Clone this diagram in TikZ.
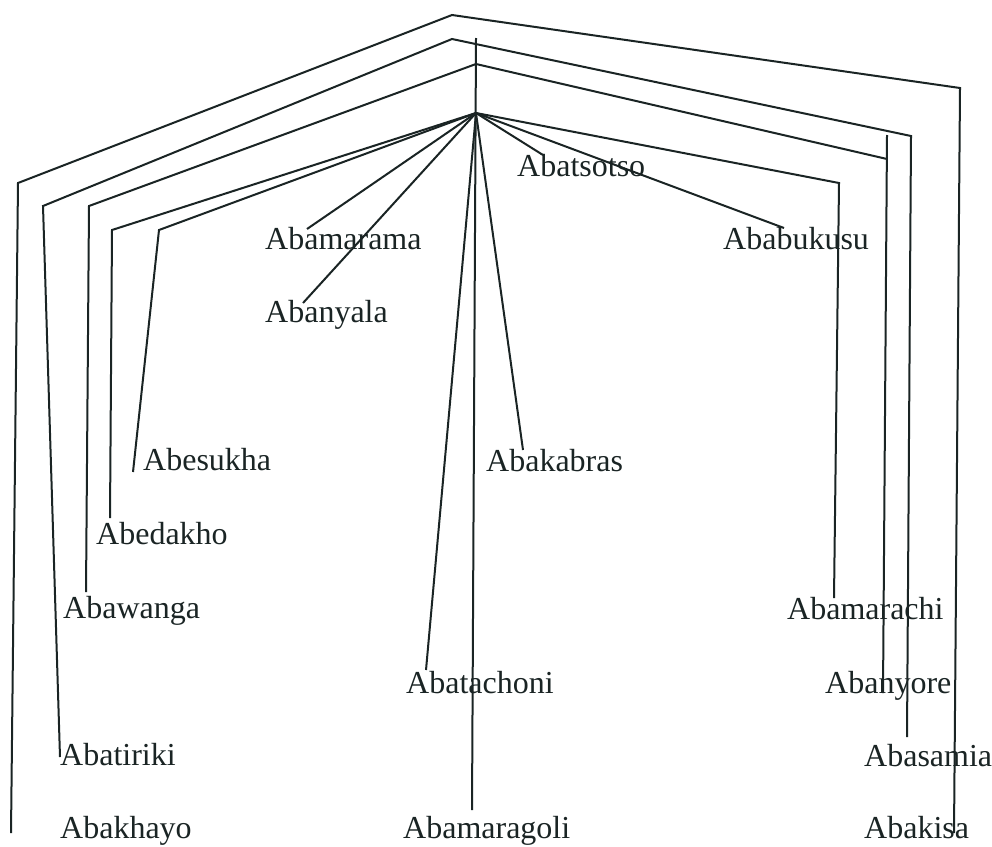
\documentclass[tikz,border=0pt]{standalone}
\usepackage{fontspec}
\setmainfont{Liberation Serif}
\definecolor{ink}{HTML}{1A2424}
\begin{document}
\begin{tikzpicture}[x=1pt,y=-1pt,
  lbl/.style={anchor=base west,inner sep=0pt,text=ink,font=\fontsize{32}{36}\selectfont},
  conn/.style={draw=ink,line width=2pt}]
\useasboundingbox (0,0) rectangle (992,846);
% labels
\node[lbl] (mrm) at (265,249) {Abamarama};
\node[lbl] (nya) at (265,322) {Abanyala};
\node[lbl] (tso) at (517,176) {Abatsotso};
\node[lbl] (buk) at (723,249) {Ababukusu};
\node[lbl] (esu) at (143,470) {Abesukha};
\node[lbl] (eda) at (96,544) {Abedakho};
\node[lbl] (kab) at (486,471) {Abakabras};
\node[lbl] (wan) at (63,618) {Abawanga};
\node[lbl] (tir) at (60,765) {Abatiriki};
\node[lbl] (kha) at (60,838) {Abakhayo};
\node[lbl] (tac) at (406,693) {Abatachoni};
\node[lbl] (mrg) at (403,838) {Abamaragoli};
\node[lbl] (mch) at (787,619) {Abamarachi};
\node[lbl] (nyo) at (825,693) {Abanyore};
\node[lbl] (sam) at (864,766) {Abasamia};
\node[lbl] (kis) at (864,838) {Abakisa};
% junction points
\coordinate (hub) at (476,113);
\coordinate (top) at (476,38);
\coordinate (apexA) at (452,15);
\coordinate (apexB) at (452,39);
\coordinate (apexC) at (476,64);
\coordinate (lA) at (18,183);
\coordinate (lB) at (43,206);
\coordinate (lC) at (89,206);
\coordinate (lD) at (112,230);
\coordinate (lE) at (159,230);
\coordinate (rA) at (960,88);
\coordinate (rB) at (911,136);
\coordinate (rC) at (887,159);
\coordinate (rCt) at (887,135);
\coordinate (rD) at (839,183);
% connector ends
\coordinate (eKha) at (11,833);
\coordinate (eTir) at (60,757);
\coordinate (eWan) at (86,592);
\coordinate (eEda) at (110,518);
\coordinate (eEsu) at (133,472);
\coordinate (eMrm) at (307,229);
\coordinate (eNya) at (303,303);
\coordinate (eTac) at (426,670);
\coordinate (eMrg) at (472,810);
\coordinate (eKab) at (523,450);
\coordinate (eTso) at (543,155);
\coordinate (eBuk) at (784,228);
\coordinate (eMch) at (834,598);
\coordinate (eNyo) at (883,693);
\coordinate (eSam) at (907,737);
\coordinate (eKis) at (954,833);
% connectors
\draw[conn] (eKha) -- (lA) -- (apexA) -- (rA) -- (eKis);
\draw[conn] (eTir) -- (lB) -- (apexB) -- (rB) -- (eSam);
\draw[conn] (eWan) -- (lC) -- (apexC) -- (rC);
\draw[conn] (rCt) -- (eNyo);
\draw[conn] (eEda) -- (lD) -- (hub) -- (rD) -- (eMch);
\draw[conn] (eEsu) -- (lE) -- (hub);
\draw[conn] (top) -- (eMrg);
\draw[conn] (hub) -- (eMrm);
\draw[conn] (hub) -- (eNya);
\draw[conn] (hub) -- (eTac);
\draw[conn] (hub) -- (eKab);
\draw[conn] (hub) -- (eTso);
\draw[conn] (hub) -- (eBuk);
\end{tikzpicture}
\end{document}
